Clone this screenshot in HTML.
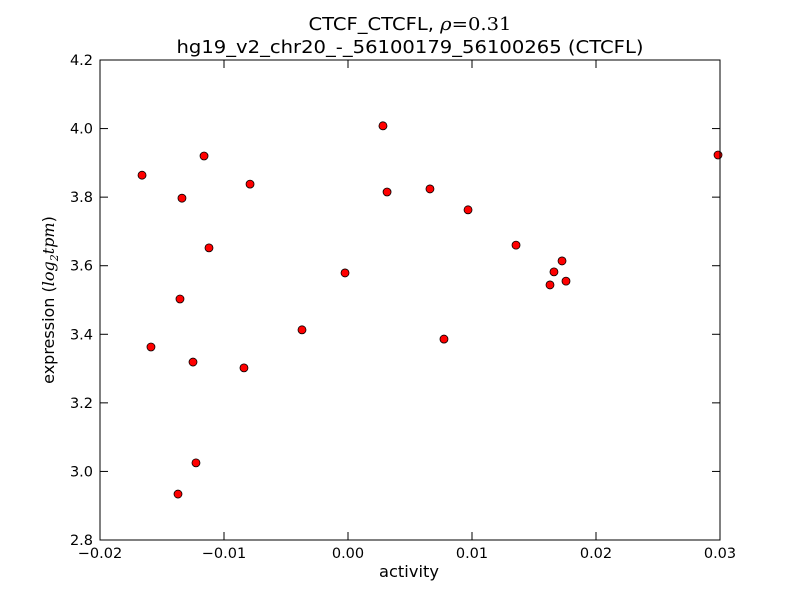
<!DOCTYPE html>
<html><head><meta charset="utf-8"><style>
body{margin:0;background:#fff;}
svg text{font-family:"DejaVu Sans","Liberation Sans",sans-serif;fill:#000;}
</style></head><body>
<svg id="chart" width="800" height="600" xmlns="http://www.w3.org/2000/svg">
<rect width="800" height="600" fill="#fff"/>
<text x="410" y="30" font-size="18" text-anchor="middle" textLength="203" lengthAdjust="spacingAndGlyphs">CTCF_CTCFL, <tspan font-family="DejaVu Serif" font-style="italic">ρ</tspan><tspan font-family="DejaVu Serif">=0.31</tspan></text>
<text x="410" y="53" font-size="18" text-anchor="middle" textLength="467" lengthAdjust="spacingAndGlyphs">hg19_v2_chr20_-_56100179_56100265 (CTCFL)</text>
<g id="ticks"></g>
<g id="points"></g>
<rect x="100" y="60" width="620" height="480" fill="none" stroke="#000" stroke-width="1"/>
<text x="409" y="577" font-size="16" text-anchor="middle" textLength="60" lengthAdjust="spacingAndGlyphs">activity</text>
<text transform="translate(54,300) rotate(-90)" font-size="16" text-anchor="middle">expression (<tspan font-family="DejaVu Serif" font-style="italic">log</tspan><tspan font-family="DejaVu Serif" font-style="italic" font-size="11" dy="4">2</tspan><tspan font-family="DejaVu Serif" font-style="italic" dy="-4">tpm</tspan>)</text>
</svg>
<script>
const xVals=[-0.01661,-0.01161,-0.01339,-0.00790,-0.01121,-0.01355,-0.01589,-0.01250,-0.00839,-0.01226,-0.01371,-0.00371,-0.00024,0.00282,0.00315,0.00661,0.00968,0.00774,0.01355,0.01661,0.01726,0.01629,0.01758,0.02984];
const yVals=[3.864,3.920,3.797,3.838,3.652,3.503,3.363,3.319,3.302,3.025,2.934,3.413,3.579,4.008,3.815,3.824,3.763,3.386,3.660,3.582,3.614,3.544,3.555,3.923];
const xTicks=[-0.02,-0.01,0.0,0.01,0.02,0.03];
const xTickLabels=["−0.02","−0.01","0.00","0.01","0.02","0.03"];
const yTicks=[2.8,3.0,3.2,3.4,3.6,3.8,4.0,4.2];
const yTickLabels=["2.8","3.0","3.2","3.4","3.6","3.8","4.0","4.2"];
const NS="http://www.w3.org/2000/svg";
const X=v=>100+(v+0.02)/0.05*620;
const Y=v=>540-(v-2.8)/1.4*480;
const tg=document.getElementById('ticks');
function ln(x1,y1,x2,y2){const l=document.createElementNS(NS,'line');l.setAttribute('x1',x1);l.setAttribute('y1',y1);l.setAttribute('x2',x2);l.setAttribute('y2',y2);l.setAttribute('stroke','#000');tg.appendChild(l);return l;}
function tx(x,y,s,a,name){const t=document.createElementNS(NS,'text');t.setAttribute('x',x);t.setAttribute('y',y);t.setAttribute('font-size','14.5');t.setAttribute('text-anchor',a);t.textContent=s;


tg.appendChild(t);}
xTicks.forEach((v,i)=>{const x=X(v);ln(x,540,x,532);ln(x,60,x,68);tx(x,558,xTickLabels[i],'middle','x-tick-label');});
yTicks.forEach((v,i)=>{const y=Y(v);ln(100,y,108,y);ln(720,y,712,y);tx(93,y+5,yTickLabels[i],'end','y-tick-label');});
const pg=document.getElementById('points');
xVals.forEach((v,i)=>{const c=document.createElementNS(NS,'circle');c.setAttribute('cx',X(v));c.setAttribute('cy',Y(yVals[i]));c.setAttribute('r',4);c.setAttribute('fill','#ff0000');c.setAttribute('stroke','#000');c.setAttribute('stroke-width','0.8');


pg.appendChild(c);});
</script>
</body></html>
